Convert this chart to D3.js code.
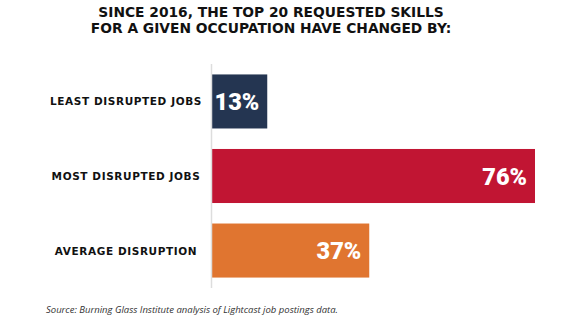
<!DOCTYPE html>
<meta charset="utf-8">
<style>
body { margin: 0; background: #fff; }
svg { display: block; }
.title { font-family: "DejaVu Sans", sans-serif; font-weight: bold; font-size: 13.8px; fill: #111; }
.cat { font-family: "DejaVu Sans", sans-serif; font-weight: bold; font-size: 10.5px; letter-spacing: 0.6px; fill: #111; }
.val { font-family: Roboto, sans-serif; font-weight: 900; font-size: 23.5px; fill: #fff; }
.source { font-family: "Open Sans", sans-serif; font-style: italic; font-size: 9.5px; fill: #333; }
</style>
<svg width="582" height="329"></svg>
<script src="https://d3js.org/d3.v7.min.js"></script>
<script>
var categories = ["LEAST DISRUPTED JOBS", "MOST DISRUPTED JOBS", "AVERAGE DISRUPTION"];
var values = [13, 76, 37];
var colors = ["#243551", "#c11533", "#e07530"];
var titleLines = ["SINCE 2016, THE TOP 20 REQUESTED SKILLS", "FOR A GIVEN OCCUPATION HAVE CHANGED BY:"];
var source = "Source: Burning Glass Institute analysis of Lightcast job postings data.";

var svg = d3.select("svg");

var x = d3.scaleLinear().domain([0, 100]).range([212, 637]);
var y = d3.scaleBand().domain(categories).range([64, 288])
    .paddingInner(0.275).paddingOuter(0.14);

// title
svg.selectAll(".title")
    .data(titleLines)
    .enter().append("text")
    .attr("class", "title")
    .attr("x", 271)
    .attr("y", function(d, i) { return 17 + i * 16; })
    .attr("text-anchor", "middle")
    .text(function(d) { return d; });

// bars
svg.selectAll(".bar")
    .data(values)
    .enter().append("rect")
    .attr("class", "bar")
    .attr("x", x(0))
    .attr("y", function(d, i) { return y(categories[i]); })
    .attr("width", function(d) { return x(d) - x(0); })
    .attr("height", y.bandwidth())
    .attr("fill", function(d, i) { return colors[i]; });

// baseline
svg.append("line")
    .attr("x1", x(0) - 0.5).attr("x2", x(0) - 0.5)
    .attr("y1", 64).attr("y2", 288)
    .attr("stroke", "#ddd")
    .attr("stroke-width", 1.5);

// category labels
svg.selectAll(".cat")
    .data(categories)
    .enter().append("text")
    .attr("class", "cat")
    .attr("x", 126)
    .attr("y", function(d) { return y(d) + y.bandwidth() / 2 + 4; })
    .attr("text-anchor", "middle")
    .text(function(d) { return d; });

// value labels
svg.selectAll(".val")
    .data(values)
    .enter().append("text")
    .attr("class", "val")
    .attr("x", function(d) { return x(d) - 8; })
    .attr("y", function(d, i) { return y(categories[i]) + y.bandwidth() / 2 + 8.5; })
    .attr("text-anchor", "end")
    .text(function(d) { return d + "%"; });

svg.append("text")
    .attr("class", "source")
    .attr("x", 46)
    .attr("y", 313)
    .text(source);
</script>
